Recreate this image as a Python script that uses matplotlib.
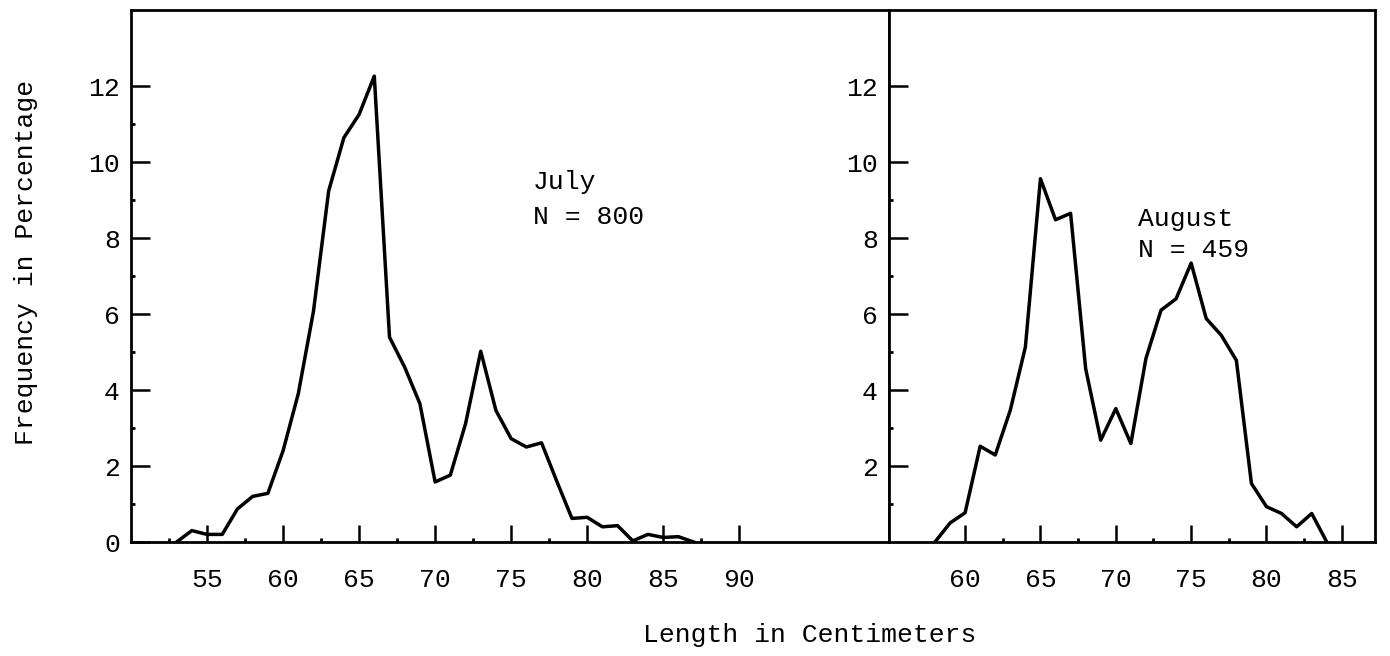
import matplotlib
matplotlib.use("Agg")
import matplotlib.pyplot as plt
from matplotlib.ticker import FixedLocator

# ---- data ----
july_len = [53, 54, 55, 56, 57, 58, 59, 60, 61, 62, 63, 64, 65, 66, 67, 68, 69, 70,
            71, 72, 73, 74, 75, 76, 77, 78, 79, 80, 81, 82, 83, 84, 85, 86, 87]
july_pct = [0.0, 0.3, 0.2, 0.2, 0.87, 1.2, 1.28, 2.4, 3.9, 6.07, 9.24, 10.64, 11.25, 12.26,
            5.39, 4.6, 3.64, 1.58, 1.76, 3.11, 5.02, 3.46, 2.72, 2.5, 2.61, 1.6, 0.62, 0.65,
            0.4, 0.43, 0.03, 0.2, 0.12, 0.14, 0.0]

aug_len = [58, 59, 60, 61, 62, 63, 64, 65, 66, 67, 68, 69, 70, 71, 72, 73, 74, 75, 76,
           77, 78, 79, 80, 81, 82, 83, 84]
aug_pct = [0.0, 0.5, 0.77, 2.52, 2.29, 3.47, 5.13, 9.56, 8.48, 8.65, 4.56, 2.68, 3.51,
           2.59, 4.83, 6.1, 6.4, 7.34, 5.88, 5.44, 4.78, 1.54, 0.93, 0.75, 0.4, 0.75, 0.0]

july_xticks = [55, 60, 65, 70, 75, 80, 85, 90]
aug_xticks = [60, 65, 70, 75, 80, 85]
left_yticks = [0, 2, 4, 6, 8, 10, 12]
right_yticks = [2, 4, 6, 8, 10, 12]

july_label = "July\nN = 800"
aug_label = "August\nN = 459"
xlabel = "Length in Centimeters"
ylabel = "Frequency in Percentage"

# ---- style ----
FONT = ["Liberation Mono", "DejaVu Sans Mono"]
plt.rcParams["font.family"] = FONT
FS = 19

fig = plt.figure(figsize=(13.9, 6.56), dpi=100)
gs = fig.add_gridspec(1, 2, width_ratios=[758, 486], wspace=0,
                      left=131/1390, right=1375/1390,
                      bottom=1-542/656, top=1-10/656)
ax1 = fig.add_subplot(gs[0])
ax2 = fig.add_subplot(gs[1])

ax1.plot(july_len, july_pct, color="black", lw=2.5, solid_joinstyle="round")
ax2.plot(aug_len, aug_pct, color="black", lw=2.5, solid_joinstyle="round")

ax1.set_xlim(50, 99.85)
ax2.set_xlim(54.95, 87.2)
for ax in (ax1, ax2):
    ax.set_ylim(0, 14)
    for s in ax.spines.values():
        s.set_linewidth(2.0)
        s.set_color("black")
    ax.tick_params(axis="both", which="major", direction="in", width=1.8,
                   labelsize=FS, colors="black")
    ax.tick_params(axis="y", which="major", length=14, pad=8)
    ax.tick_params(axis="x", which="major", length=12, pad=19)
    ax.tick_params(axis="both", which="minor", direction="in", length=3, width=2)

ax1.set_xticks(july_xticks)
ax1.set_xticklabels([str(v) for v in july_xticks])
ax1.xaxis.set_minor_locator(FixedLocator([52.5, 57.5, 62.5, 67.5, 72.5, 77.5, 87.5]))
ax1.set_yticks(left_yticks)
ax1.set_yticklabels([str(v) for v in left_yticks])
ax1.yaxis.set_minor_locator(FixedLocator([1, 3, 5, 7, 9, 11]))

ax2.set_xticks(aug_xticks)
ax2.set_xticklabels([str(v) for v in aug_xticks])
ax2.xaxis.set_minor_locator(FixedLocator([62.5, 67.5, 72.5, 77.5, 82.5]))
ax2.set_yticks(right_yticks)
ax2.set_yticklabels([str(v) for v in right_yticks])
ax2.yaxis.set_minor_locator(FixedLocator([1, 3, 5, 7, 9]))

ax1.text(76.45, 9.3, july_label.split("\n")[0], fontsize=FS, ha="left", va="baseline")
ax1.text(76.45, 8.38, july_label.split("\n")[1], fontsize=FS, ha="left", va="baseline")
ax2.text(71.5, 8.32, aug_label.split("\n")[0], fontsize=FS, ha="left", va="baseline")
ax2.text(71.5, 7.51, aug_label.split("\n")[1], fontsize=FS, ha="left", va="baseline")

fig.text(810/1390, 1-635/656, xlabel, fontsize=FS, ha="center", va="center")
fig.text(26/1390, 1-262/656, ylabel, fontsize=FS, ha="center", va="center",
         rotation=90)

fig.savefig("out.png", dpi=100, facecolor="white")
